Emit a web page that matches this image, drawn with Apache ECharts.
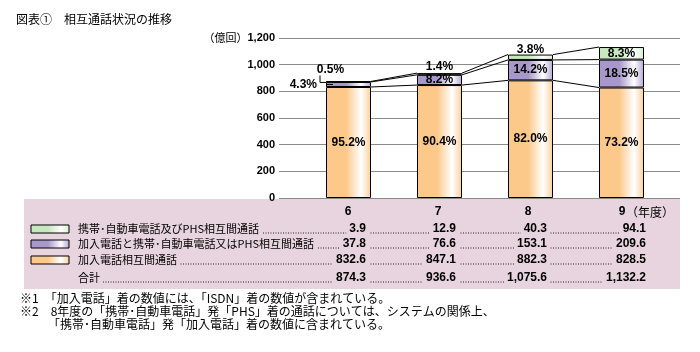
<!DOCTYPE html>
<html>
<head>
<meta charset="utf-8">
<script src="https://cdn.jsdelivr.net/npm/echarts@6/dist/echarts.min.js"></script>
<style>
  html, body { margin: 0; padding: 0; background: #fff; }
  #chart { width: 700px; height: 352px; }
</style>
</head>
<body>
<div id="chart"></div>
<script>
// 年度
const years = ['6', '7', '8', '9'];
// 億回
const mobileMutual = [3.9, 12.9, 40.3, 94.1];      // 携帯・自動車電話及びPHS相互間通話
const fixedMobile = [37.8, 76.6, 153.1, 209.6];    // 加入電話と携帯・自動車電話又はPHS相互間通話
const fixedMutual = [832.6, 847.1, 882.3, 828.5];  // 加入電話相互間通話
const totals = [874.3, 936.6, 1075.6, 1132.2];     // 合計
// 構成比
const pctMobile = ['0.5%', '1.4%', '3.8%', '8.3%'];
const pctFixedMobile = ['4.3%', '8.2%', '14.2%', '18.5%'];
const pctFixed = ['95.2%', '90.4%', '82.0%', '73.2%'];
const rowNames = ['携帯･自動車電話及びPHS相互間通話', '加入電話と携帯･自動車電話又はPHS相互間通話', '加入電話相互間通話'];

const PINK = '#e7d4df';
const NUM_FONT = 'bold 12px "Liberation Sans", Arial, sans-serif';
const JP_FONT = '12px "Noto Sans CJK JP", sans-serif';
const ROW_FONT = '11px "Noto Sans CJK JP", sans-serif';
const BAR_W = 45;

const fmt = v => {
  const s = v.toFixed(1).split('.');
  return s[0].replace(/\B(?=(\d{3})+(?!\d))/g, ',') + '.' + s[1];
};
const grad = (c1, c2) => new echarts.graphic.LinearGradient(0, 0, 1, 0, [
  { offset: 0, color: c1 }, { offset: 0.45, color: c1 }, { offset: 0.78, color: '#ffffff' }, { offset: 1, color: c2 }
]);
const orangeFill = grad('#fcc98a', '#f9cf9c');
const purpleFill = grad('#a797ca', '#b3a6d4');
const greenFill = grad('#c6e8bf', '#d6efd0');

const cumFixed = fixedMutual.slice();
const cumFixedMobile = fixedMutual.map((v, i) => v + fixedMobile[i]);
const levels = [cumFixed, cumFixedMobile, totals];

const myChart = echarts.init(document.getElementById('chart'));

// 表の部分
const table = [];
table.push({ type: 'rect', shape: { x: 24, y: 199, width: 656, height: 90 }, style: { fill: PINK }, z: 0 });
const colX = [366, 456, 547, 646];
const headX = [348, 438, 528, 622];
const rowY = [229, 244, 260, 278];
const txt = (text, x, y, font, align, bg) => ({
  type: 'text', z: 3,
  style: {
    text: text, x: x, y: y, font: font, fill: '#000',
    textAlign: align, textVerticalAlign: 'middle', align: align, verticalAlign: 'middle',
    backgroundColor: bg ? PINK : null, padding: bg ? [0, 3, 0, 3] : 0
  }
});
years.forEach((y, i) => table.push(txt(y, headX[i], 212, NUM_FONT, 'center', false)));
table.push(txt('（年度）', headX[3] + 4, 212, JP_FONT, 'left', false));
const rowsData = [mobileMutual, fixedMobile, fixedMutual, totals];
const swatch = [greenFill, purpleFill, orangeFill];
rowsData.forEach((arr, r) => {
  const y = rowY[r];
  table.push({ type: 'line', z: 1, shape: { x1: 78, y1: y + 4, x2: colX[3], y2: y + 4 },
    style: { stroke: '#222', lineWidth: 1, lineDash: [1, 1.5] } });
  if (r < 3) {
    table.push({ type: 'rect', z: 2, shape: { x: 31, y: y - 4, width: 38, height: 8 },
      style: { fill: swatch[r], stroke: '#000', lineWidth: 1 } });
    table.push(txt(rowNames[r], 75, y, ROW_FONT, 'left', true));
  } else {
    table.push(txt('合計', 75, y, ROW_FONT, 'left', true));
  }
  arr.forEach((v, i) => table.push(txt(fmt(v), colX[i] + 3, y, NUM_FONT, 'right', true)));
});
// タイトル・注
table.push(txt('図表①　相互通話状況の推移', 16, 19, JP_FONT, 'left', false));
table.push(txt('※1　「加入電話」着の数値には、「ISDN」着の数値が含まれている。', 20, 298, JP_FONT, 'left', false));
table.push(txt('※2　8年度の「携帯･自動車電話」発「PHS」着の通話については、システムの関係上、', 20, 311, JP_FONT, 'left', false));
table.push(txt('「携帯･自動車電話」発「加入電話」着の数値に含まれている。', 48, 324, JP_FONT, 'left', false));

const lbl = { show: true, color: '#000', fontWeight: 'bold', fontSize: 12, fontFamily: '"Liberation Sans", Arial, sans-serif' };

myChart.setOption({
  animation: false,
  grid: [
    { left: 279, top: 38, width: 401, height: 160 },
    { left: 303, top: 38, width: 364, height: 160 }
  ],
  xAxis: [
    { gridIndex: 0, type: 'category', data: years, show: false },
    { gridIndex: 1, type: 'category', data: years, show: false }
  ],
  yAxis: [
    {
      gridIndex: 0, type: 'value', min: 0, max: 1200, interval: 200,
      axisLine: { show: false }, axisTick: { show: false },
      splitLine: { lineStyle: { color: '#8a8a8a', width: 1 } },
      axisLabel: {
        margin: 4, color: '#000', fontWeight: 'bold', fontSize: 11, fontFamily: '"Liberation Sans", Arial, sans-serif',
        formatter: v => {
          const s = String(v).replace(/\B(?=(\d{3})+(?!\d))/g, ',');
          return v === 1200 ? '{u|（億回）}' + s : s;
        },
        rich: { u: { fontSize: 11, fontWeight: 'normal', fontFamily: '"Noto Sans CJK JP", sans-serif', color: '#000' } }
      }
    },
    { gridIndex: 1, type: 'value', min: 0, max: 1200, interval: 200, show: false, splitLine: { show: false } }
  ],
  graphic: table,
  series: [
    {
      name: '加入電話相互間通話', type: 'bar', stack: 'a', xAxisIndex: 1, yAxisIndex: 1, barWidth: BAR_W,
      itemStyle: { color: orangeFill, borderColor: '#000', borderWidth: 1 },
      label: Object.assign({ position: 'inside', formatter: p => pctFixed[p.dataIndex] }, lbl),
      data: fixedMutual
    },
    {
      name: '加入電話と携帯・自動車電話又はPHS相互間通話', type: 'bar', stack: 'a', xAxisIndex: 1, yAxisIndex: 1, barWidth: BAR_W,
      itemStyle: { color: purpleFill, borderColor: '#000', borderWidth: 1 },
      label: Object.assign({ position: 'inside', formatter: p => pctFixedMobile[p.dataIndex] }, lbl),
      data: fixedMobile.map((v, i) => i === 0 ? { value: v, label: { position: 'left', distance: 9 } } : v)
    },
    {
      name: '携帯・自動車電話及びPHS相互間通話', type: 'bar', stack: 'a', xAxisIndex: 1, yAxisIndex: 1, barWidth: BAR_W,
      itemStyle: { color: greenFill, borderColor: '#000', borderWidth: 1 },
      label: Object.assign({ position: 'inside', formatter: p => pctMobile[p.dataIndex] }, lbl),
      data: mobileMutual.map((v, i) => {
        if (i === 0) return { value: v, label: { position: 'top', distance: 5, offset: [-18, 0] } };
        if (i === 1) return { value: v, label: { position: 'top', distance: 0 } };
        if (i === 2) return { value: v, label: { position: 'top', distance: 0, offset: [0, 1] } };
        return v;
      })
    },
    {
      // 棒の間をつなぐ線と引き出し線
      type: 'custom', xAxisIndex: 1, yAxisIndex: 1, z: 5, silent: true,
      data: [[0], [1], [2]],
      renderItem: (params, api) => {
        const i = params.dataIndex;
        const children = levels.map(lv => {
          const a = api.coord([i, lv[i]]);
          const b = api.coord([i + 1, lv[i + 1]]);
          return { type: 'line', shape: { x1: a[0] + BAR_W / 2, y1: a[1], x2: b[0] - BAR_W / 2, y2: b[1] },
            style: { stroke: '#000', lineWidth: 1 } };
        });
        if (i === 0) {
          const left = api.coord([0, 0])[0] - BAR_W / 2;
          const top = api.coord([0, totals[0]])[1];
          const mid = api.coord([0, cumFixed[0] + fixedMobile[0] / 2])[1];
          children.push({ type: 'line', shape: { x1: left, y1: mid, x2: left + 7, y2: mid }, style: { stroke: '#000', lineWidth: 1 } });
          children.push({ type: 'polyline', shape: { points: [[left - 6, top - 6], [left - 6, top + 1], [left, top + 1]] },
            style: { stroke: '#000', lineWidth: 1, fill: null } });
        }
        return { type: 'group', children: children };
      }
    }
  ]
});
</script>
</body>
</html>
